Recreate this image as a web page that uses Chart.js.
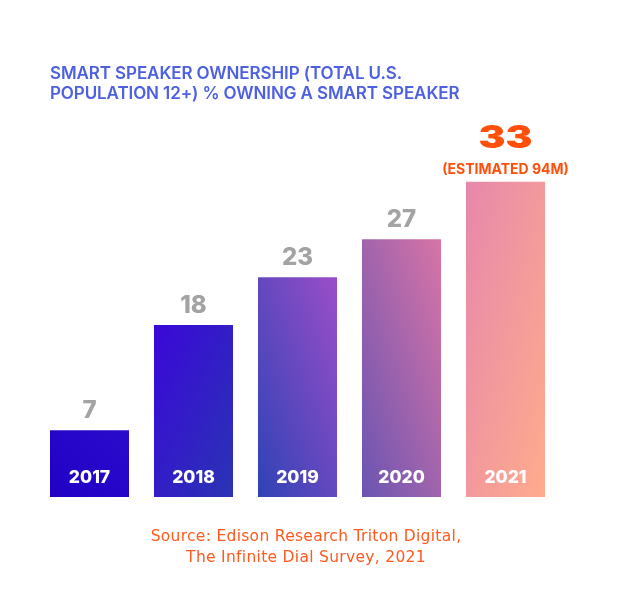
<!DOCTYPE html>
<html>
<head>
<meta charset="utf-8">
<script src="https://cdn.jsdelivr.net/npm/chart.js@4/dist/chart.umd.min.js"></script>
<style>
  html, body { margin: 0; padding: 0; background: #fff; }
  #wrap { position: relative; width: 620px; height: 600px; overflow: hidden; }
  #myChart { position: absolute; left: 0; top: 0; }
  .title {
    position: absolute; left: 50px; top: 63px;
    font-family: Inter, sans-serif; font-weight: 600; font-size: 17px;
    line-height: 20px; color: #4d60e2; letter-spacing: -0.1px;
  }
  .source {
    position: absolute; left: 106px; width: 400px; top: 526px; text-align: center;
    font-family: "DejaVu Sans", sans-serif; font-weight: 400; font-size: 15.5px;
    line-height: 21px; color: #ff5a1e; letter-spacing: 0.3px;
  }
</style>
</head>
<body>
<div id="wrap">
  <canvas id="myChart" width="620" height="600"></canvas>
  <div class="title">SMART SPEAKER OWNERSHIP (TOTAL U.S.<br>POPULATION 12+) % OWNING A SMART SPEAKER</div>
  <div class="source">Source: Edison Research Triton Digital,<br>The Infinite Dial Survey, 2021</div>
</div>
<script>
const years = ['2017', '2018', '2019', '2020', '2021'];
const ownership = [7, 18, 23, 27, 33];
const highlightIndex = 4;
const highlightNote = '(ESTIMATED 94M)';

// bar colours, one gradient per bar (corner to corner)
const gradFrom = ['#2200c6', '#3a08d8', '#2f42b6', '#6a54b2', '#e688ac'];
const gradTo = ['#2a0ccc', '#2a34b4', '#9a4ec8', '#d874a6', '#ffab8c'];
const gradDown = [false, true, false, false, true];

function barColor(context) {
  const chart = context.chart;
  const i = context.dataIndex;
  const area = chart.chartArea;
  if (!area || i === undefined) {
    return gradFrom[i] || gradFrom[0];
  }
  const xs = chart.scales.x;
  const ys = chart.scales.y;
  const x = xs.getPixelForValue(i);
  const w = (area.width / years.length) * 0.76;
  const top = ys.getPixelForValue(ownership[i]);
  const bottom = ys.getPixelForValue(0);
  const h = bottom - top;
  // direction so that the other diagonal is the mid line
  const k = (2 * w * h) / (w * w + h * h);
  let g;
  if (gradDown[i]) {
    const x0 = x - w / 2, y0 = top;
    g = chart.ctx.createLinearGradient(x0, y0, x0 + k * h, y0 + k * w);
  } else {
    const x0 = x - w / 2, y0 = bottom;
    g = chart.ctx.createLinearGradient(x0, y0, x0 + k * h, y0 - k * w);
  }
  g.addColorStop(0, gradFrom[i]);
  g.addColorStop(1, gradTo[i]);
  return g;
}

const labelPlugin = {
  id: 'barLabels',
  afterDatasetsDraw(chart) {
    const ctx = chart.ctx;
    const meta = chart.getDatasetMeta(0);
    ctx.save();
    ctx.textAlign = 'center';
    ctx.textBaseline = 'alphabetic';
    meta.data.forEach((bar, i) => {
      if (i === highlightIndex) {
        ctx.fillStyle = '#ff4f0a';
        ctx.font = '700 14px Inter';
        ctx.fillText(highlightNote, bar.x, bar.y - 8);
        ctx.save();
        ctx.translate(bar.x, bar.y - 34);
        ctx.scale(1.3, 1);
        ctx.font = '900 31px Inter';
        ctx.fillText(String(ownership[i]), 0, 0);
        ctx.restore();
      } else {
        ctx.fillStyle = '#a3a3a3';
        ctx.font = '800 24px Inter';
        ctx.fillText(String(ownership[i]), bar.x, bar.y - 12);
      }
      ctx.fillStyle = '#ffffff';
      ctx.font = '800 17.5px Inter';
      ctx.fillText(years[i], bar.x, bar.base - 14);
    });
    ctx.restore();
  }
};

const ctx = document.getElementById('myChart').getContext('2d');
const chart = new Chart(ctx, {
  type: 'bar',
  data: {
    labels: years,
    datasets: [{
      data: ownership,
      backgroundColor: barColor,
      borderWidth: 0,
      categoryPercentage: 1,
      barPercentage: 0.76,
    }]
  },
  options: {
    responsive: false,
    animation: false,
    devicePixelRatio: 1,
    layout: {
      padding: { left: 37.5, right: 62.5, top: 162.75, bottom: 103 }
    },
    scales: {
      x: { display: false },
      y: { display: false, min: 0, max: 35 }
    },
    plugins: {
      legend: { display: false },
      tooltip: { enabled: false }
    }
  },
  plugins: [labelPlugin]
});
</script>
</body>
</html>
